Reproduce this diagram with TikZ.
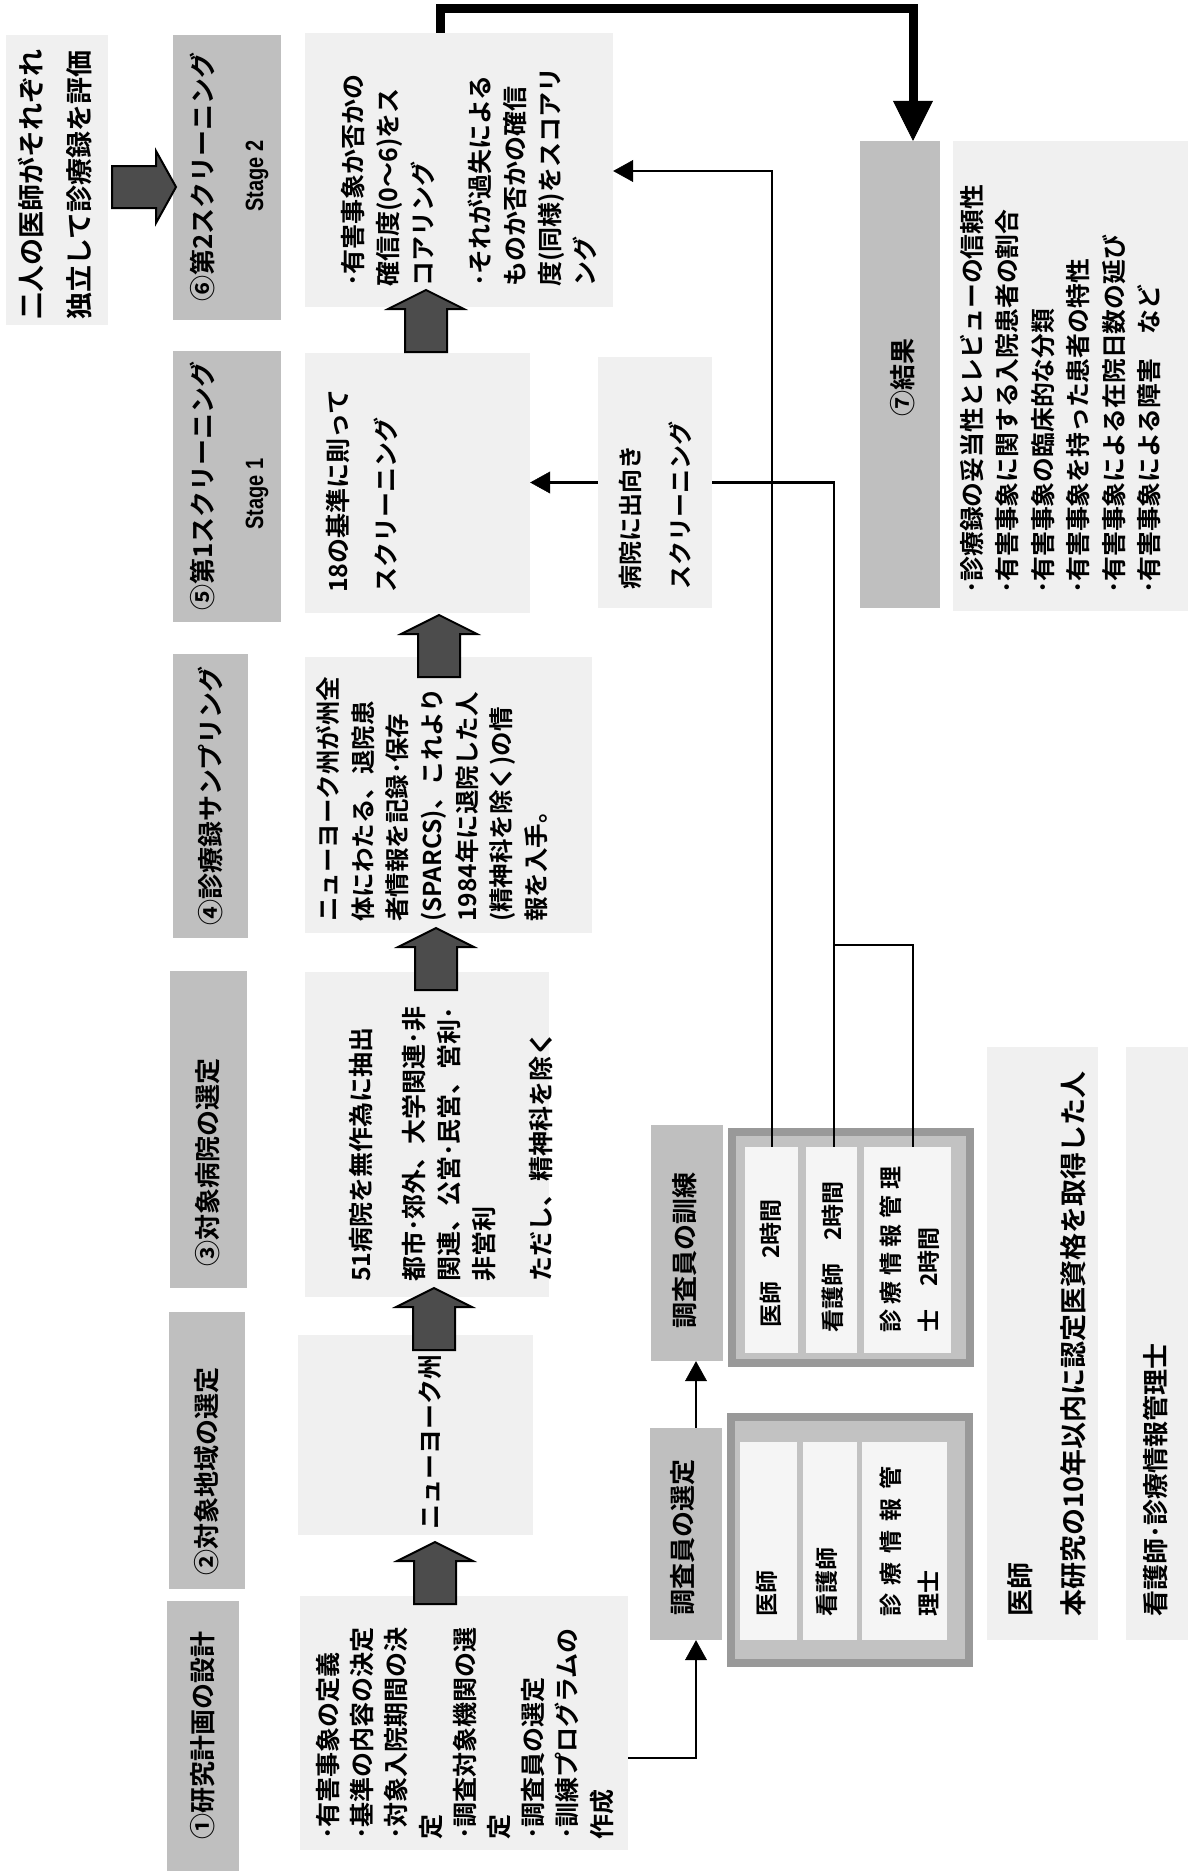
\documentclass[tikz,border=0pt]{standalone}
\usepackage{fontspec}
\usetikzlibrary{arrows.meta}
\newfontfamily\jp{Noto Sans CJK JP}[BoldFont={Noto Sans CJK JP Bold}]
\newfontfamily\latn{Liberation Sans}[FakeStretch=0.8]
\newcommand{\blkup}[3]{\path[blockarrow] ({#1-38},{#2+19}) -- (#1,#2) -- ({#1+38},{#2+19}) -- ({#1+21},{#2+19}) -- ({#1+21},#3) -- ({#1-21},#3) -- ({#1-21},{#2+19}) -- cycle;}
\begin{document}
\begin{tikzpicture}[x=1pt,y=-1pt,
 lb/.style={fill=black!6,draw=none,inner sep=0pt},
 tb/.style={fill=black!25,draw=none,inner sep=0pt},
 tx/.style={rotate=90,anchor=north west,inner sep=0pt,align=left,font=\jp\bfseries\fontsize{25}{35}\selectfont},
 ttl/.style={rotate=90,inner sep=0pt,font=\jp\bfseries\fontsize{26}{30}\selectfont},
 stg/.style={rotate=90,inner sep=0pt,font=\latn\bfseries\fontsize{25}{28}\selectfont},
 cellf/.style={font=\jp\bfseries\fontsize{23}{38}\selectfont},
 blockarrow/.style={fill=black!70,draw=black,line width=2pt},
 conn/.style={line width=2.4pt},
 tipc/.style={-{Triangle[length=20pt,width=22pt,line width=0.5pt]}},
 frameo/.style={fill=black!40,draw=none,inner sep=0pt},
 framei/.style={fill=black!24,draw=none,inner sep=0pt},
 cell/.style={fill=black!4,draw=none,inner sep=0pt},
]
\useasboundingbox (0,0) rectangle (1188,1871);
% ---------- boxes
\node[lb,minimum width=102pt,minimum height=290pt] (b0) at (57,180) {};
\node[tb,minimum width=108pt,minimum height=285pt] (t6) at (227,177.5) {};
\node[tb,minimum width=108pt,minimum height=271pt] (t5) at (227,486.5) {};
\node[tb,minimum width=75pt,minimum height=284pt] (t4) at (210.5,796) {};
\node[tb,minimum width=77pt,minimum height=317pt] (t3) at (208.5,1129.5) {};
\node[tb,minimum width=76pt,minimum height=277pt] (t2) at (207,1450.5) {};
\node[tb,minimum width=72pt,minimum height=270pt] (t1) at (203,1736) {};
\node[lb,minimum width=308pt,minimum height=274pt] (bTop) at (459,170) {};
\node[lb,minimum width=225pt,minimum height=260pt] (b18) at (417.5,483) {};
\node[lb,minimum width=287pt,minimum height=276pt] (bNY) at (448.5,795) {};
\node[lb,minimum width=244pt,minimum height=325pt] (b51) at (427,1134.5) {};
\node[lb,minimum width=235pt,minimum height=200pt] (bNYS) at (415.5,1435) {};
\node[lb,minimum width=328pt,minimum height=254pt] (b1) at (464,1723) {};
\node[lb,minimum width=114pt,minimum height=251pt] (bHosp) at (655,482.5) {};
\node[tb,minimum width=80pt,minimum height=467pt] (t7) at (900,374.5) {};
\node[lb,minimum width=235pt,minimum height=470pt] (bRes) at (1070.5,376) {};
\node[tb,minimum width=72pt,minimum height=236pt] (tTrain) at (687,1243) {};
\node[tb,minimum width=72pt,minimum height=212pt] (tSel) at (686,1534) {};
\node[frameo,minimum width=246pt,minimum height=239pt] (gTrain) at (851,1247.5) {};
\node[framei,minimum width=230pt,minimum height=223pt] (gTrainI) at (851,1247.5) {};
\node[cell,minimum width=53pt,minimum height=206pt] (trc1) at (771.5,1250) {};
\node[cell,minimum width=51pt,minimum height=206pt] (trc2) at (831.5,1250) {};
\node[cell,minimum width=87pt,minimum height=206pt] (trc3) at (907.5,1250) {};
\node[frameo,minimum width=246pt,minimum height=254pt] (gSel) at (850,1540) {};
\node[framei,minimum width=230pt,minimum height=238pt] (gSelI) at (850,1540) {};
\node[cell,minimum width=57pt,minimum height=198pt] (sc1) at (768.5,1541) {};
\node[cell,minimum width=54pt,minimum height=198pt] (sc2) at (830,1541) {};
\node[cell,minimum width=85pt,minimum height=198pt] (sc3) at (904.5,1541) {};
\node[lb,minimum width=111pt,minimum height=593pt] (bDoc) at (1042.5,1343.5) {};
\node[lb,minimum width=62pt,minimum height=593pt] (bNurse) at (1157,1343.5) {};
% ---------- texts
\node[tx,font=\jp\bfseries\fontsize{27}{48}\selectfont] (x0) at (18,320) {二人の医師がそれぞれ\\独立して診療録を評価};
\node[ttl] (x6) at (202,177) {⑥第2スクリーニング};
\node[stg] (s6) at (257,176) {Stage 2};
\node[ttl] (x5) at (202,486) {⑤第1スクリーニング};
\node[stg] (s5) at (257,494) {Stage 1};
\node[ttl] (x4) at (210,796) {④診療録サンプリング};
\node[ttl] (x3) at (208,1162) {③対象病院の選定};
\node[ttl] (x2) at (207,1471) {②対象地域の選定};
\node[ttl] (x1) at (203,1735) {①研究計画の設計};
\node[tx] (xTop) at (341,287) {･有害事象か否かの\\確信度(0～6)をス\\コアリング\\[22pt]･それが過失による\\ものか否かの確信\\度(同様)をスコアリ\\ング};
\node[tx,font=\jp\bfseries\fontsize{25}{48}\selectfont] (x18) at (326,593) {18の基準に則って\\スクリーニング};
\node[tx,font=\jp\bfseries\fontsize{24.5}{34.7}\selectfont] (xNY) at (316,922) {ニューヨーク州が州全\\体にわたる、退院患\\者情報を記録･保存\\(SPARCS)、これより\\1984年に退院した人\\(精神科を除く)の情\\報を入手。};
\node[tx] (x51) at (349,1282) {51病院を無作為に抽出\\[18pt]都市･郊外、大学関連･非\\関連、公営･民営、営利･\\非営利\\[22pt]ただし、精神科を除く};
\node[ttl,font=\jp\bfseries\fontsize{25}{28}\selectfont] (xNYS) at (430,1442) {ニューヨーク州};
\node[tx,font=\jp\bfseries\fontsize{25}{34.2}\selectfont] (x1c) at (316,1840) {･有害事象の定義\\･基準の内容の決定\\･対象入院期間の決\\定\\･調査対象機関の選\\定\\･調査員の選定\\･訓練プログラムの\\作成};
\node[tx,font=\jp\bfseries\fontsize{24}{50}\selectfont] (xHosp) at (619,590) {病院に出向き\\スクリーニング};
\node[ttl] (x7) at (903,377) {⑦結果};
\node[tx,font=\jp\bfseries\fontsize{24.8}{35.5}\selectfont] (xRes) at (960,594) {･診療録の妥当性とレビューの信頼性\\･有害事象に関する入院患者の割合\\･有害事象の臨床的な分類\\･有害事象を持った患者の特性\\･有害事象による在院日数の延び\\･有害事象による障害　など};
\node[ttl] (xTrain) at (685,1250) {調査員の訓練};
\node[ttl] (xSel) at (683,1537) {調査員の選定};
\node[tx,cellf] (xtr1) at (760,1328) {医師　2時間};
\node[tx,cellf] (xtr2) at (822,1333) {看護師　2時間};
\node[tx,cellf] (xtr3) at (880,1333) {\makebox[166pt][s]{診\hfil 療\hfil 情\hfil 報\hfil 管\hfil 理}\\士　2時間};
\node[tx,cellf] (xsc1) at (756,1617) {医師};
\node[tx,cellf] (xsc2) at (816,1617) {看護師};
\node[tx,cellf] (xsc3) at (880,1617) {\makebox[150pt][s]{診\hfil 療\hfil 情\hfil 報\hfil 管}\\理士};
\node[tx,font=\jp\bfseries\fontsize{27}{53}\selectfont] (xDoc) at (1007,1617) {医師\\本研究の10年以内に認定医資格を取得した人};
\node[tx,font=\jp\bfseries\fontsize{26}{30}\selectfont] (xNurse) at (1143,1617) {看護師･診療情報管理士};
% ---------- block arrows
\blkup{426}{290}{352}
\blkup{439}{615}{677}
\blkup{436}{928}{990}
\blkup{434}{1288}{1350}
\blkup{435}{1542}{1604}
\path[blockarrow] (112,166) -- (156,166) -- (156,151) -- (176,187) -- (156,223) -- (156,208) -- (112,208) -- cycle;
% ---------- connectors
\coordinate (k1) at (440,8);
\coordinate (k2) at (913,8);
\draw[line width=9pt,line join=miter,-{Triangle[length=40pt,width=40pt,line width=0.5pt]}] (bTop.north -| k1) -- (k1) -- (k2) -- (t7.north -| k2);
\coordinate (k3) at (772,171);
\draw[conn,tipc] (trc1.north -| k3) -- (k3) -- (bTop.east |- k3);
\coordinate (k4) at (834,482.5);
\draw[conn] (trc2.north -| k4) -- (k4) -- (bHosp.east |- k4);
\coordinate (k5) at (913,945);
\draw[conn] (trc3.north -| k5) -- (k5) -- (k4 |- k5);
\draw[conn,tipc] (bHosp.west) -- (b18.east |- bHosp.west);
\coordinate (k7) at (696,1758);
\draw[conn,tipc] (b1.east |- k7) -- (k7) -- (tSel.south -| k7);
\draw[conn,tipc] (tSel.north -| k7) -- (tTrain.south -| k7);
\end{tikzpicture}
\end{document}
